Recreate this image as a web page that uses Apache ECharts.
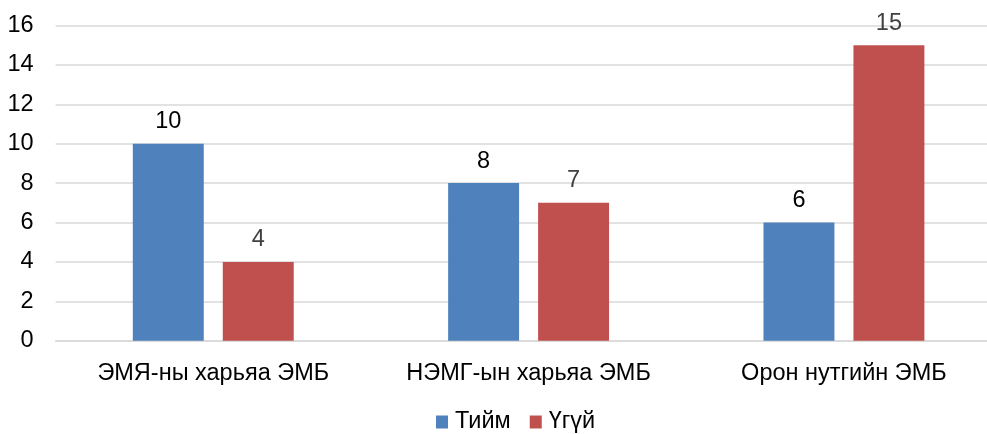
<!DOCTYPE html>
<html><head><meta charset="utf-8">
<script src="https://cdn.jsdelivr.net/npm/echarts@6/dist/echarts.min.js"></script>
<style>html,body{margin:0;padding:0;background:#fff}#c{width:987px;height:434px}</style>
</head><body><div id="c"></div>
<script>
const categories = ['ЭМЯ-ны харьяа ЭМБ', 'НЭМГ-ын харьяа ЭМБ', 'Орон нутгийн ЭМБ'];
const seriesNames = ['Тийм', 'Үгүй'];
const yesValues = [10, 8, 6];
const noValues = [4, 7, 15];
const yTicks = [0, 2, 4, 6, 8, 10, 12, 14, 16];

const font = '"Liberation Sans", Arial, sans-serif';
const fs = 23.5;
const chart = echarts.init(document.getElementById('c'));
chart.setOption({
  animation: false,
  textStyle: { fontFamily: font },
  grid: { left: 55.6, top: 25.5, width: 946, bottom: 93.3, containLabel: false, outerBoundsMode: 'none' },
  legend: {
    data: seriesNames,
    top: 405,
    left: 431,
    itemWidth: 12, itemHeight: 13, itemGap: 19,
    icon: 'rect',
    textStyle: { fontSize: fs, color: '#000', fontFamily: font, padding: [0, 0, 0, 2] }
  },
  xAxis: {
    type: 'category',
    data: categories,
    axisLine: { show: true, lineStyle: { color: '#D9D9D9', width: 1.5 } },
    axisTick: { show: false },
    axisLabel: { fontSize: fs, color: '#000', margin: 21, fontFamily: font, interval: 0 }
  },
  yAxis: {
    type: 'value',
    min: yTicks[0], max: yTicks[yTicks.length - 1], interval: 2,
    axisLine: { show: false },
    axisTick: { show: false },
    splitLine: { lineStyle: { color: '#D9D9D9', width: 1.5 } },
    axisLabel: { fontSize: fs, color: '#000', margin: 22, fontFamily: font }
  },
  series: [
    {
      name: seriesNames[0], type: 'bar', data: yesValues,
      barWidth: '22.5%', barGap: '26.8%',
      itemStyle: { color: '#4F81BD' },
      label: { show: true, position: 'top', distance: 10, fontSize: fs, color: '#000', fontFamily: font }
    },
    {
      name: seriesNames[1], type: 'bar', data: noValues,
      barWidth: '22.5%', barGap: '26.8%',
      itemStyle: { color: '#C0504D' },
      label: { show: true, position: 'top', distance: 10, fontSize: fs, color: '#404040', fontFamily: font }
    }
  ]
});
</script></body></html>
